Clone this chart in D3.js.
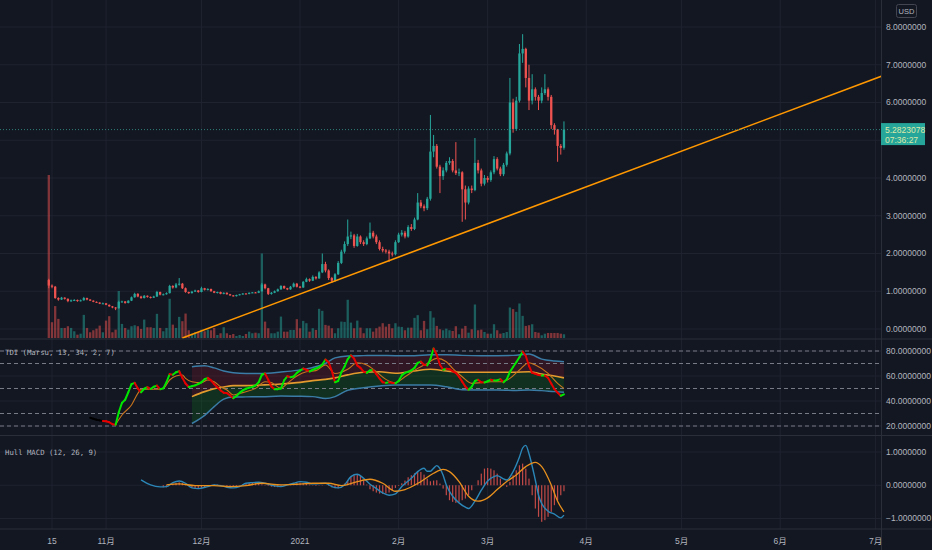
<!DOCTYPE html>
<html>
<head>
<meta charset="utf-8">
<script src="https://cdn.jsdelivr.net/npm/d3@7"></script>
<style>
  html, body { margin: 0; padding: 0; background: #131722; }
  svg { display: block; }
</style>
</head>
<body>
<svg id="chart" width="932" height="550"></svg>
<script>
// ---- price data: one daily candle per day starting 2020-10-14 ----
const firstDay = new Date("2020-10-14");
const firstOpen = 1.30;
const closes = [
  1.15,1.12,0.82,0.78,0.83,0.80,0.74,0.76,0.77,0.74,
  0.76,0.82,0.78,0.75,0.72,0.70,0.67,0.68,0.64,0.60,
  0.57,0.55,0.72,0.73,0.69,0.75,0.84,0.93,0.86,0.82,
  0.88,0.85,0.83,0.86,0.98,0.91,0.92,0.95,1.14,1.10,
  1.18,1.20,1.08,0.98,0.95,0.99,1.02,0.98,1.08,1.04,
  1.06,1.00,0.96,0.98,0.93,0.96,0.92,0.89,0.87,0.90,
  0.92,0.94,0.93,0.96,0.97,0.96,1.00,1.18,1.08,0.93,
  0.96,1.00,1.05,1.14,1.08,1.05,1.12,1.20,1.12,1.10,
  1.25,1.32,1.28,1.38,1.34,1.50,1.72,1.55,1.35,1.28,
  1.45,1.75,2.05,2.25,2.45,2.48,2.20,2.45,2.30,2.25,
  2.40,2.55,2.45,2.30,2.12,2.08,2.05,2.00,1.98,2.30,
  2.50,2.55,2.45,2.70,2.65,2.90,3.35,3.25,3.20,3.45,
  4.70,4.85,4.30,4.05,4.20,4.40,4.45,4.20,4.13,4.15,
  3.70,3.35,3.72,3.68,4.40,4.20,3.85,4.00,3.95,4.15,
  4.50,4.25,4.10,4.35,4.65,6.00,5.30,6.05,7.30,7.42,
  6.65,6.05,6.35,6.15,6.05,6.25,6.35,6.15,5.40,5.28,
  4.85,4.80,5.2823078
];
const highs = [
  1.33,1.18,1.14,0.84,0.85,0.84,0.81,0.78,0.79,0.78,
  0.78,0.85,0.83,0.79,0.76,0.73,0.71,0.70,0.69,0.65,
  0.61,0.58,0.75,0.75,0.74,0.76,0.86,0.96,0.95,0.88,
  0.90,0.89,0.86,0.88,1.01,0.99,0.94,0.97,1.17,1.16,
  1.22,1.35,1.22,1.10,0.99,1.01,1.04,1.03,1.12,1.09,
  1.08,1.07,1.01,0.99,0.99,0.97,0.97,0.93,0.90,0.91,
  0.93,0.95,0.95,0.97,0.98,0.98,1.02,1.22,1.20,1.09,
  0.98,1.02,1.07,1.16,1.15,1.09,1.14,1.23,1.22,1.14,
  1.27,1.36,1.34,1.42,1.40,1.53,2.00,1.78,1.58,1.38,
  1.48,1.80,2.10,2.32,2.90,2.58,2.52,2.52,2.48,2.35,
  2.45,2.82,2.60,2.50,2.35,2.18,2.12,2.10,2.05,2.35,
  2.55,2.62,2.60,2.75,2.78,2.95,3.60,3.42,3.30,3.50,
  5.67,5.14,4.90,4.35,4.28,4.45,4.55,4.50,4.95,4.25,
  4.18,3.80,3.78,3.80,5.06,4.48,4.25,4.08,4.05,4.20,
  4.58,4.55,4.30,4.40,4.70,6.65,6.10,6.15,7.55,7.81,
  7.45,7.00,6.75,6.40,6.20,6.40,6.75,6.40,6.20,5.45,
  5.30,4.90,5.50
];
const lows = [
  1.08,1.08,0.80,0.75,0.77,0.78,0.71,0.72,0.74,0.72,
  0.73,0.75,0.76,0.74,0.71,0.69,0.66,0.66,0.63,0.59,
  0.55,0.50,0.54,0.70,0.67,0.68,0.74,0.83,0.84,0.80,
  0.81,0.83,0.81,0.82,0.85,0.89,0.89,0.91,0.94,1.07,
  1.08,1.15,1.06,0.96,0.93,0.94,0.98,0.96,0.97,1.02,
  1.02,0.99,0.95,0.94,0.92,0.92,0.91,0.88,0.86,0.86,
  0.89,0.91,0.92,0.92,0.95,0.95,0.95,0.99,1.05,0.90,
  0.91,0.95,0.99,1.04,1.06,1.03,1.04,1.10,1.10,1.08,
  1.09,1.24,1.25,1.27,1.31,1.33,1.48,1.50,1.30,1.22,
  1.25,1.43,1.72,2.00,2.20,2.38,2.15,2.18,2.25,2.20,
  2.22,2.38,2.40,2.25,2.08,2.03,2.00,1.78,1.92,1.95,
  2.28,2.45,2.40,2.42,2.60,2.62,2.88,3.20,3.12,3.15,
  3.40,4.55,4.25,3.60,3.95,4.15,4.35,4.15,4.08,4.05,
  2.84,2.90,3.30,3.60,3.65,4.12,3.78,3.80,3.88,3.90,
  4.10,4.20,4.05,4.05,4.30,4.60,5.20,5.25,6.00,7.05,
  6.40,5.80,5.95,6.05,5.80,5.98,6.20,6.05,5.30,5.15,
  4.43,4.62,4.75
];
const volumes = [
  162,15.7,31.7,19,10,10,11.7,10,6.7,3.3,
  4.3,23,10,5.7,7.7,9.3,12.3,5.7,17.3,21.7,
  5.7,8.3,46.7,14,10,8.3,11.7,12.7,11.7,9,
  18.3,10.7,10.7,10,24,10,6.7,10,39,13.3,
  10,21,16.7,24.3,7.7,4.3,5.7,5.7,8.3,6.7,
  8.3,7.7,10,3,4.7,10.7,4.7,3,4,2,
  3,2,4,6.3,4.7,5.3,4.7,84,16.3,9.7,
  4.7,4.7,6.3,21.3,6.3,6.3,8,8,18.7,9.7,
  17,14.7,6.3,9.7,8,29,27,13,12.3,9.7,
  4.7,9.7,16.3,16,38,15.3,9.7,17.3,10.3,4.7,
  9.7,9.7,6.3,9.7,11.3,14.7,11.3,14,9.7,14.7,
  11.3,11,7.7,10.3,10.3,20,22.7,7.7,17,8.7,
  26.7,20.3,12,8.7,7.7,9.3,7.7,7,11.7,3.7,
  9.3,12,5.3,8.7,33.3,7.7,8.3,6,4.3,4.3,
  13.7,7.7,4.3,5,6,30.3,28.7,26,34.3,22,
  12,12.7,13.7,6,5.3,2.7,4.3,5,5,5,
  5,4.3,3.7
];
const lastPrice = 5.2823078;
const countdown = "07:36:27";
const trendPoints = [["2020-11-25", -0.24], ["2021-07-03", 6.70]];

// ---- TDI (Marsu, 13, 34, 2, 7) ----
const tdiFastStart = 13;   // day index of first value
const tdiWarmup = 4;       // first segments drawn black
const tdiFast = [
  26.6,25.8,25.0,24.5,24.0,23.8,23.0,21.5,21.0,31.0,
  38.5,41.0,47.0,53.5,54.5,50.0,47.0,49.8,51.0,49.6,
  51.4,52.3,49.4,50.1,55.0,61.5,61.0,63.0,63.8,58.5,
  54.0,51.2,51.8,52.5,53.6,55.0,57.5,58.5,56.5,53.5,
  51.0,48.5,46.6,46.3,44.5,42.2,44.0,46.5,48.5,49.8,
  50.7,51.2,52.5,55.0,61.0,62.0,57.0,51.5,49.5,49.5,
  50.0,56.5,59.8,59.0,59.6,62.5,64.3,66.0,65.0,63.6,
  65.0,66.0,67.0,69.2,73.2,71.0,64.0,55.0,56.0,63.0,
  67.5,73.5,76.5,74.0,68.5,66.5,63.5,62.5,64.5,64.8,
  61.5,58.0,55.0,54.5,55.0,54.5,54.1,56.0,60.5,62.5,
  63.4,64.5,66.5,70.5,71.5,69.0,68.5,73.5,82.0,77.0,
  69.0,65.0,65.8,65.5,63.8,62.5,59.5,55.5,51.5,49.0,
  51.5,56.0,57.0,55.0,54.8,55.8,57.0,56.5,56.5,57.5,
  55.0,57.3,63.3,67.2,71.0,75.0,79.5,76.0,68.0,62.5,
  61.8,60.8,60.4,60.4,58.5,54.0,49.5,46.7,44.2,45.3
];
const tdiSignalDays = [21,23,26,28,29,33,36,38,40,42,43,45,48,50,52,54,56,58,60,62,
  65,68,70,73,75,78,81,84,87,90,94,97,100,103,106,109,112,116,119,122,
  125,127,130,133,136,139,142,145,148,151,153,157,160,162];
const tdiSignal = [21.0,28.8,36.8,46.1,49.4,49.4,50.1,56.8,60.0,60.8,58.1,55.4,54.7,56.8,55.4,51.4,48.8,44.8,46.1,47.4,
  50.1,55.4,54.7,50.1,54.1,60.0,63.4,64.3,68.8,62.0,65.4,70.6,68.8,63.4,57.3,54.7,59.4,66.1,70.1,74.1,
  71.4,66.1,59.4,54.1,54.7,55.4,55.4,58.1,64.8,70.6,68.8,62.1,54.1,50.1];
const bandDays  = [45,49,52,55,58,62,67,73,78,83,87,90,94,99,104,109,115,120,125,130,136,141,146,151,155,159,162];
const bandUpper = [67.4,68.2,66.5,64.0,62.6,62.1,62.1,63.2,64.5,66.8,70.0,74.5,76.0,76.3,76.5,76.3,76.3,77.0,77.0,76.5,76.3,76.3,76.5,77.6,73.5,72.0,71.4];
const bandMid   = [43.5,47.5,49.8,51.2,52.3,52.3,52.8,53.6,54.7,56.3,57.3,58.5,60.9,63.0,63.4,62.2,64.0,65.4,64.0,63.0,63.0,63.0,63.0,63.4,61.5,60.0,58.5];
const bandLower = [22.0,28.5,35.5,41.5,43.2,43.3,43.4,44.0,43.8,43.5,42.0,43.5,48.6,50.6,52.0,52.8,52.8,52.8,51.4,49.0,48.8,48.8,48.5,48.8,48.3,47.5,47.0];
const tdiLevels = [80, 70, 50, 30, 20];

// ---- Hull MACD (12, 26, 9) ----
const macdDays = [29,32,35,37,39,41,43,45,47,50,52,54,56,58,60,62,64,66,68,71,
  73,75,77,79,81,83,85,87,89,91,93,95,97,99,101,103,105,107,109,111,
  114,116,117,118,119,120,121,122,123,124,125,127,129,131,132,134,136,138,140,141,
  143,144,146,148,149,150,151,153,154,155,157,159,161,162];
const macdLine = [0.16,0.01,-0.05,-0.04,0.08,0.13,0.06,-0.08,-0.10,-0.04,0.01,-0.01,-0.06,-0.08,-0.04,0.06,0.08,0.09,0.06,-0.02,
  -0.04,0.01,0.06,0.11,0.09,0.04,0.05,0.06,-0.04,-0.08,0.01,0.26,0.33,0.21,0.03,-0.10,-0.23,-0.30,-0.26,-0.04,
  0.21,0.41,0.48,0.51,0.42,0.42,0.51,0.59,0.50,0.30,0.01,-0.33,-0.53,-0.66,-0.70,-0.48,-0.15,0.13,0.26,0.29,
  0.19,0.16,0.41,0.85,1.12,1.20,0.95,0.15,-0.30,-0.55,-0.78,-0.87,-0.98,-0.90];
const signalDays = [37,41,46,52,57,62,67,73,78,83,88,92,97,101,105,109,112,117,121,124,
  126,129,132,135,138,141,144,147,150,153,155,158,160,162];
const macdSignal = [0.01,0.04,-0.01,-0.01,-0.04,-0.01,0.06,0.01,0.03,0.06,0.06,-0.01,0.11,0.18,0.06,-0.18,-0.13,0.11,0.36,0.48,
  0.41,0.11,-0.33,-0.48,-0.38,-0.13,0.11,0.31,0.56,0.69,0.56,0.01,-0.48,-0.80];
const histStart = 36;
const macdHist = [
  -0.06,-0.06,-0.01,0.05,0.07,0.09,0.07,0.04,0.00,-0.07,
  -0.09,-0.09,-0.08,-0.05,-0.02,0.01,0.02,0.02,0.01,-0.01,
  -0.03,-0.03,-0.04,-0.02,-0.01,0.03,0.06,0.07,0.07,0.07,
  0.05,0.03,-0.01,-0.02,-0.04,-0.05,-0.06,-0.04,-0.02,0.00,
  0.02,0.04,0.06,0.08,0.06,0.04,0.02,-0.01,-0.02,-0.01,
  -0.01,0.00,-0.02,-0.06,-0.09,-0.09,-0.01,0.05,0.15,0.25,
  0.30,0.32,0.28,0.15,0.02,-0.12,-0.18,-0.22,-0.25,-0.26,
  -0.25,-0.22,-0.16,-0.08,-0.02,0.06,0.14,0.24,0.30,0.36,
  0.40,0.40,0.32,0.20,0.12,0.14,0.15,0.05,-0.10,-0.30,
  -0.45,-0.50,-0.53,-0.50,-0.45,-0.40,-0.30,-0.15,0.00,0.15,
  0.35,0.50,0.52,0.50,0.45,0.35,0.20,0.05,-0.05,0.10,
  0.30,0.45,0.60,0.65,0.50,0.20,-0.30,-0.70,-0.95,-1.10,
  -1.05,-0.95,-0.80,-0.60,-0.45,-0.30,-0.18
];

// ---- axes ----
const priceTicks = [0, 1, 2, 3, 4, 5, 6, 7, 8];
const tdiTicks = [20, 40, 60, 80];
const macdTicks = [-1, 0, 1];
const timeTicks = ["2020-10-15","2020-11-01","2020-12-01","2021-01-01","2021-02-01",
  "2021-03-01","2021-04-01","2021-05-01","2021-06-01","2021-07-01"];
const timeLabels = ["15","11月","12月","2021","2月","3月","4月","5月","6月","7月"];

// ---------------------------------------------------------------
const W = 932, H = 550, plotRight = 881;
const paneTop = [0, 339, 435.5];
const paneBottom = [339, 435.5, 529];
const up = "#26a69a", down = "#ef5350";
const axisFont = "'Liberation Sans', 'Noto Sans CJK JP', sans-serif";
const fmt = d3.format(".7f");
const dayAt = i => d3.utcDay.offset(firstDay, i);

const svg = d3.select("#chart");

const x = d3.scaleUtc()
  .domain([new Date("2020-10-15"), new Date("2021-07-01")])
  .range([52, 875.6]);
const yPrice = d3.scaleLinear().domain([0, 8]).range([329, 27]);
const yVol = d3.scaleLinear().domain([0, d3.max(volumes)]).range([338, 175]);
const yTdi = d3.scaleLinear().domain([20, 80]).range([426, 351]);
const yMacd = d3.scaleLinear().domain([-1, 1]).range([518.5, 452]);

svg.append("rect").attr("width", W).attr("height", H).attr("fill", "#131722");

// clip rects, one per pane
const defs = svg.append("defs");
paneTop.forEach((t, k) => {
  defs.append("clipPath").attr("id", "clip" + k)
    .append("rect").attr("x", 0).attr("y", t)
    .attr("width", plotRight).attr("height", paneBottom[k] - t);
});

// grid
const grid = svg.append("g").attr("stroke", "#1f2330").attr("stroke-width", 1);
grid.selectAll(".vg").data(timeTicks).join("line")
  .attr("x1", d => x(new Date(d))).attr("x2", d => x(new Date(d)))
  .attr("y1", 0).attr("y2", paneBottom[2]);
const hLines = [
  ...priceTicks.map(v => yPrice(v)),
  ...tdiTicks.map(v => yTdi(v)),
  ...macdTicks.map(v => yMacd(v))
];
grid.selectAll(".hg").data(hLines).join("line")
  .attr("x1", 0).attr("x2", plotRight)
  .attr("y1", d => d).attr("y2", d => d);

// ---- price pane ----
const bars = closes.map((c, i) => ({
  date: dayAt(i),
  open: i ? closes[i - 1] : firstOpen,
  close: c, high: highs[i], low: lows[i], vol: volumes[i]
}));
const colorOf = d => d.close >= d.open ? up : down;

const gPrice = svg.append("g").attr("clip-path", "url(#clip0)");

gPrice.selectAll(".vol").data(bars).join("rect")
  .attr("x", d => x(d.date) - 1.15).attr("width", 2.3)
  .attr("y", d => yVol(d.vol)).attr("height", d => yVol(0) - yVol(d.vol))
  .attr("fill", colorOf).attr("fill-opacity", 0.5);

gPrice.selectAll(".wick").data(bars).join("line")
  .attr("x1", d => x(d.date)).attr("x2", d => x(d.date))
  .attr("y1", d => yPrice(d.high)).attr("y2", d => yPrice(d.low))
  .attr("stroke", colorOf).attr("stroke-width", 1);

gPrice.selectAll(".body").data(bars).join("rect")
  .attr("x", d => x(d.date) - 1.15).attr("width", 2.3)
  .attr("y", d => yPrice(Math.max(d.open, d.close)))
  .attr("height", d => Math.max(1, Math.abs(yPrice(d.open) - yPrice(d.close))))
  .attr("fill", colorOf);

gPrice.append("path")
  .datum(trendPoints)
  .attr("d", d3.line().x(d => x(new Date(d[0]))).y(d => yPrice(d[1])))
  .attr("stroke", "#ff9800").attr("stroke-width", 1.6).attr("fill", "none");

const yLast = yPrice(lastPrice);
svg.append("line")
  .attr("x1", 0).attr("x2", plotRight).attr("y1", yLast).attr("y2", yLast)
  .attr("stroke", "#2f7d78").attr("stroke-width", 1).attr("stroke-dasharray", "1 2");

// ---- TDI pane ----
const gTdi = svg.append("g").attr("clip-path", "url(#clip1)");
const bands = bandDays.map((d, k) => ({
  date: dayAt(d), upper: bandUpper[k], mid: bandMid[k], lower: bandLower[k]
}));
gTdi.append("path").datum(bands)
  .attr("d", d3.area().curve(d3.curveMonotoneX)
    .x(d => x(d.date)).y0(d => yTdi(d.mid)).y1(d => yTdi(d.upper)))
  .attr("fill", "rgba(170,20,40,0.2)");
gTdi.append("path").datum(bands)
  .attr("d", d3.area().curve(d3.curveMonotoneX)
    .x(d => x(d.date)).y0(d => yTdi(d.lower)).y1(d => yTdi(d.mid)))
  .attr("fill", "rgba(10,150,20,0.2)");

gTdi.selectAll(".lvl").data(tdiLevels).join("line")
  .attr("x1", 0).attr("x2", plotRight)
  .attr("y1", d => yTdi(d)).attr("y2", d => yTdi(d))
  .attr("stroke", "#787b86").attr("stroke-width", 1).attr("stroke-dasharray", "4 3");

const bandLine = key => d3.line().curve(d3.curveMonotoneX)
  .x(d => x(d.date)).y(d => yTdi(d[key]));
gTdi.append("path").datum(bands).attr("d", bandLine("upper"))
  .attr("fill", "none").attr("stroke", "#3a7ca5").attr("stroke-width", 1.5);
gTdi.append("path").datum(bands).attr("d", bandLine("lower"))
  .attr("fill", "none").attr("stroke", "#3a7ca5").attr("stroke-width", 1.5);
gTdi.append("path").datum(bands).attr("d", bandLine("mid"))
  .attr("fill", "none").attr("stroke", "#e39b2f").attr("stroke-width", 1.6);

const sig = tdiSignalDays.map((d, k) => ({ date: dayAt(d), v: tdiSignal[k] }));
gTdi.append("path").datum(sig)
  .attr("d", d3.line().curve(d3.curveMonotoneX).x(d => x(d.date)).y(d => yTdi(d.v)))
  .attr("fill", "none").attr("stroke", "#c8741c").attr("stroke-width", 1.1);

const fast = tdiFast.map((v, k) => ({ date: dayAt(tdiFastStart + k), v }));
const segs = d3.pairs(fast).map(([a, b], k) => ({
  a, b,
  color: k < tdiWarmup ? "#000000" : (b.v >= a.v ? "#00e600" : "#e60000")
}));
gTdi.selectAll(".fast").data(segs).join("line")
  .attr("x1", d => x(d.a.date)).attr("y1", d => yTdi(d.a.v))
  .attr("x2", d => x(d.b.date)).attr("y2", d => yTdi(d.b.v))
  .attr("stroke", d => d.color).attr("stroke-width", 2).attr("stroke-linecap", "round");

// ---- Hull MACD pane ----
const gMacd = svg.append("g").attr("clip-path", "url(#clip2)");
const hist = macdHist.map((v, k) => ({ date: dayAt(histStart + k), v }));
gMacd.selectAll(".hist").data(hist).join("rect")
  .attr("x", d => x(d.date) - 0.6).attr("width", 1.2)
  .attr("y", d => Math.min(yMacd(0), yMacd(d.v)))
  .attr("height", d => Math.abs(yMacd(d.v) - yMacd(0)))
  .attr("fill", "#c24a47");

const macdPts = macdDays.map((d, k) => ({ date: dayAt(d), v: macdLine[k] }));
const sigPts = signalDays.map((d, k) => ({ date: dayAt(d), v: macdSignal[k] }));
const mLine = d3.line().curve(d3.curveMonotoneX).x(d => x(d.date)).y(d => yMacd(d.v));
gMacd.append("path").datum(macdPts).attr("d", mLine)
  .attr("fill", "none").attr("stroke", "#2b87b8").attr("stroke-width", 1.4);
gMacd.append("path").datum(sigPts).attr("d", mLine)
  .attr("fill", "none").attr("stroke", "#e8901e").attr("stroke-width", 1.3);

// ---- separators ----
const sep = svg.append("g").attr("stroke", "#2a2e39").attr("stroke-width", 1);
[paneBottom[0], paneBottom[1], paneBottom[2]].forEach(y =>
  sep.append("line").attr("x1", 0).attr("x2", W).attr("y1", y).attr("y2", y));
sep.append("line").attr("x1", plotRight + 0.5).attr("x2", plotRight + 0.5)
  .attr("y1", 0).attr("y2", H);

// ---- right axis labels (price labels hidden where the last-price tag sits) ----
const yLastTag = yPrice(lastPrice);
const axisText = (sel, vals, scale) => sel.selectAll(null).data(vals).join("text")
  .attr("x", 886).attr("y", d => scale(d)).attr("dy", "0.35em")
  .attr("font-family", axisFont).attr("font-size", 8.5).attr("fill", "#b2b5be")
  .text(d => fmt(d));
const gAxis = svg.append("g");
axisText(gAxis.append("g"),
  priceTicks.filter(v => Math.abs(yPrice(v) - (yLastTag + 4.5)) > 16), yPrice);
axisText(gAxis.append("g"), tdiTicks, yTdi);
axisText(gAxis.append("g"), macdTicks, yMacd);

// last price tag
svg.append("rect").attr("x", plotRight).attr("y", yLast - 6.5)
  .attr("width", 44).attr("height", 22).attr("fill", up);
svg.append("text").attr("x", 885).attr("y", yLast).attr("dy", "0.35em")
  .attr("font-family", axisFont).attr("font-size", 8.5).attr("fill", "#dfe8a8")
  .text(fmt(lastPrice));
svg.append("text").attr("x", 885).attr("y", yLast + 10).attr("dy", "0.35em")
  .attr("font-family", axisFont).attr("font-size", 8.5).attr("fill", "#dfe8a8")
  .text(countdown);

// currency box
svg.append("rect").attr("x", 896.5).attr("y", 4.5).attr("width", 20).attr("height", 13)
  .attr("rx", 2).attr("fill", "#131722").attr("stroke", "#434651");
svg.append("text").attr("x", 906.5).attr("y", 11).attr("dy", "0.35em")
  .attr("text-anchor", "middle").attr("font-family", axisFont)
  .attr("font-size", 7.5).attr("fill", "#b2b5be").text("USD");

// ---- time axis ----
svg.append("g").selectAll("text").data(timeTicks).join("text")
  .attr("x", d => x(new Date(d))).attr("y", 541).attr("dy", "0.35em")
  .attr("text-anchor", "middle").attr("font-family", axisFont)
  .attr("font-size", 8.5).attr("fill", "#b2b5be")
  .text((d, i) => timeLabels[i]);

// ---- pane legends ----
const legend = (txt, y) => svg.append("text").attr("x", 5).attr("y", y).attr("dy", "0.35em")
  .attr("font-family", "'DejaVu Sans Mono', monospace").attr("font-size", 7.3)
  .attr("fill", "#b2b5be").text(txt);
legend("TDI (Marsu, 13, 34, 2, 7)", 352);
legend("Hull MACD (12, 26, 9)", 452);
</script>
</body>
</html>
